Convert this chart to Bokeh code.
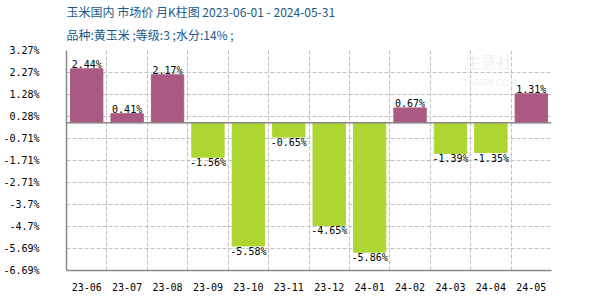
import numpy as np
from bokeh.plotting import figure
from bokeh.models import (ColumnDataSource, Range1d, FixedTicker, Span, Label, Title)
from bokeh.core.properties import value
from bokeh.embed import file_html
from bokeh.resources import INLINE

months = ["23-06", "23-07", "23-08", "23-09", "23-10", "23-11",
          "23-12", "24-01", "24-02", "24-03", "24-04", "24-05"]
changes = [2.44, 0.41, 2.17, -1.56, -5.58, -0.65, -4.65, -5.86, 0.67, -1.39, -1.35, 1.31]
y_tick_values = [3.27, 2.27, 1.28, 0.28, -0.71, -1.71, -2.71, -3.7, -4.7, -5.69, -6.69]
y_tick_labels = ["3.27%", "2.27%", "1.28%", "0.28%", "-0.71%", "-1.71%", "-2.71%",
                 "-3.7%", "-4.7%", "-5.69%", "-6.69%"]
title1 = "玉米国内 市场价 月K柱图 2023-06-01 - 2024-05-31"
title2 = "品种:黄玉米 ;等级:3 ;水分:14% ;"

POS = "#AA5A82"
NEG = "#ADD633"
MONO = "DejaVu Sans Mono"

n = len(months)
xs = np.arange(n) + 0.5
vals = np.array(changes)
colors = [POS if v >= 0 else NEG for v in vals]
labels = ["%.2f%%" % v for v in vals]

src = ColumnDataSource(dict(x=xs, top=vals, color=colors, label=labels))
pos = vals >= 0
src_pos = ColumnDataSource(dict(x=xs[pos], y=vals[pos], label=[l for l, p in zip(labels, pos) if p]))
src_neg = ColumnDataSource(dict(x=xs[~pos], y=vals[~pos], label=[l for l, p in zip(labels, pos) if not p]))

p = figure(width=600, height=300, output_backend="svg", toolbar_location=None,
           x_range=Range1d(0, n), y_range=Range1d(y_tick_values[-1], y_tick_values[0]),
           min_border_left=60, min_border_right=49, min_border_top=50, min_border_bottom=30)
p.outline_line_color = None
p.background_fill_color = "white"
p.border_fill_color = "white"

p.vbar(x="x", top="top", bottom=0, width=0.8, color="color", source=src)

p.text(x="x", y="y", text="label", source=src_pos, text_align="center",
       text_baseline="bottom", text_font=value(MONO), text_font_size="10px",
       text_color="black", y_offset=1)
p.text(x="x", y="y", text="label", source=src_neg, text_align="center",
       text_baseline="top", text_font=value(MONO), text_font_size="10px",
       text_color="black", y_offset=0)

p.add_layout(Span(location=0, dimension="width", line_color="#888888", line_width=1.5))

# axes
p.yaxis.ticker = FixedTicker(ticks=y_tick_values)
p.yaxis.major_label_overrides = {v: l for v, l in zip(y_tick_values, y_tick_labels)}
p.xaxis.ticker = FixedTicker(ticks=list(xs))
p.xaxis.major_label_overrides = {float(x): m for x, m in zip(xs, months)}
for ax in (p.xaxis[0], p.yaxis[0]):
    ax.axis_line_color = "#888888"
    ax.axis_line_width = 1.5
    ax.major_tick_line_color = None
    ax.minor_tick_line_color = None
    ax.major_label_text_font = MONO
    ax.major_label_text_font_size = "10px"
    ax.major_label_text_color = "black"
p.yaxis.major_label_standoff = 21
p.xaxis.major_label_standoff = 6

p.ygrid.ticker = FixedTicker(ticks=y_tick_values)
p.xgrid.ticker = FixedTicker(ticks=list(np.arange(1, n + 1)))
for g in (p.xgrid[0], p.ygrid[0]):
    g.grid_line_color = "#C0C0C0"
    g.grid_line_dash = "4 2"
    g.grid_line_width = 1

# watermark (screen units are relative to the plot frame)
p.add_layout(Label(x=398, y=198, x_units="screen", y_units="screen", text="生意社",
                   text_font="Noto Sans CJK SC", text_font_size="16px",
                   text_color="#F5EEEE"))
p.add_layout(Label(x=396, y=183, x_units="screen", y_units="screen", text="100PPI.COM",
                   text_font="DejaVu Sans", text_font_size="9px",
                   text_color="#F0F0F0"))

# titles (first added sits closest to the frame)
t2 = Title(text=title2, align="left", text_font="Noto Sans CJK SC", text_font_size="12px",
           text_font_style="normal", text_color="#17598A", standoff=15)
t1 = Title(text=title1, align="left", text_font="Noto Sans CJK SC", text_font_size="12px",
           text_font_style="normal", text_color="#17598A", standoff=-7)
p.add_layout(t2, "above")
p.add_layout(t1, "above")

open("out.html", "w").write(file_html(p, INLINE))
